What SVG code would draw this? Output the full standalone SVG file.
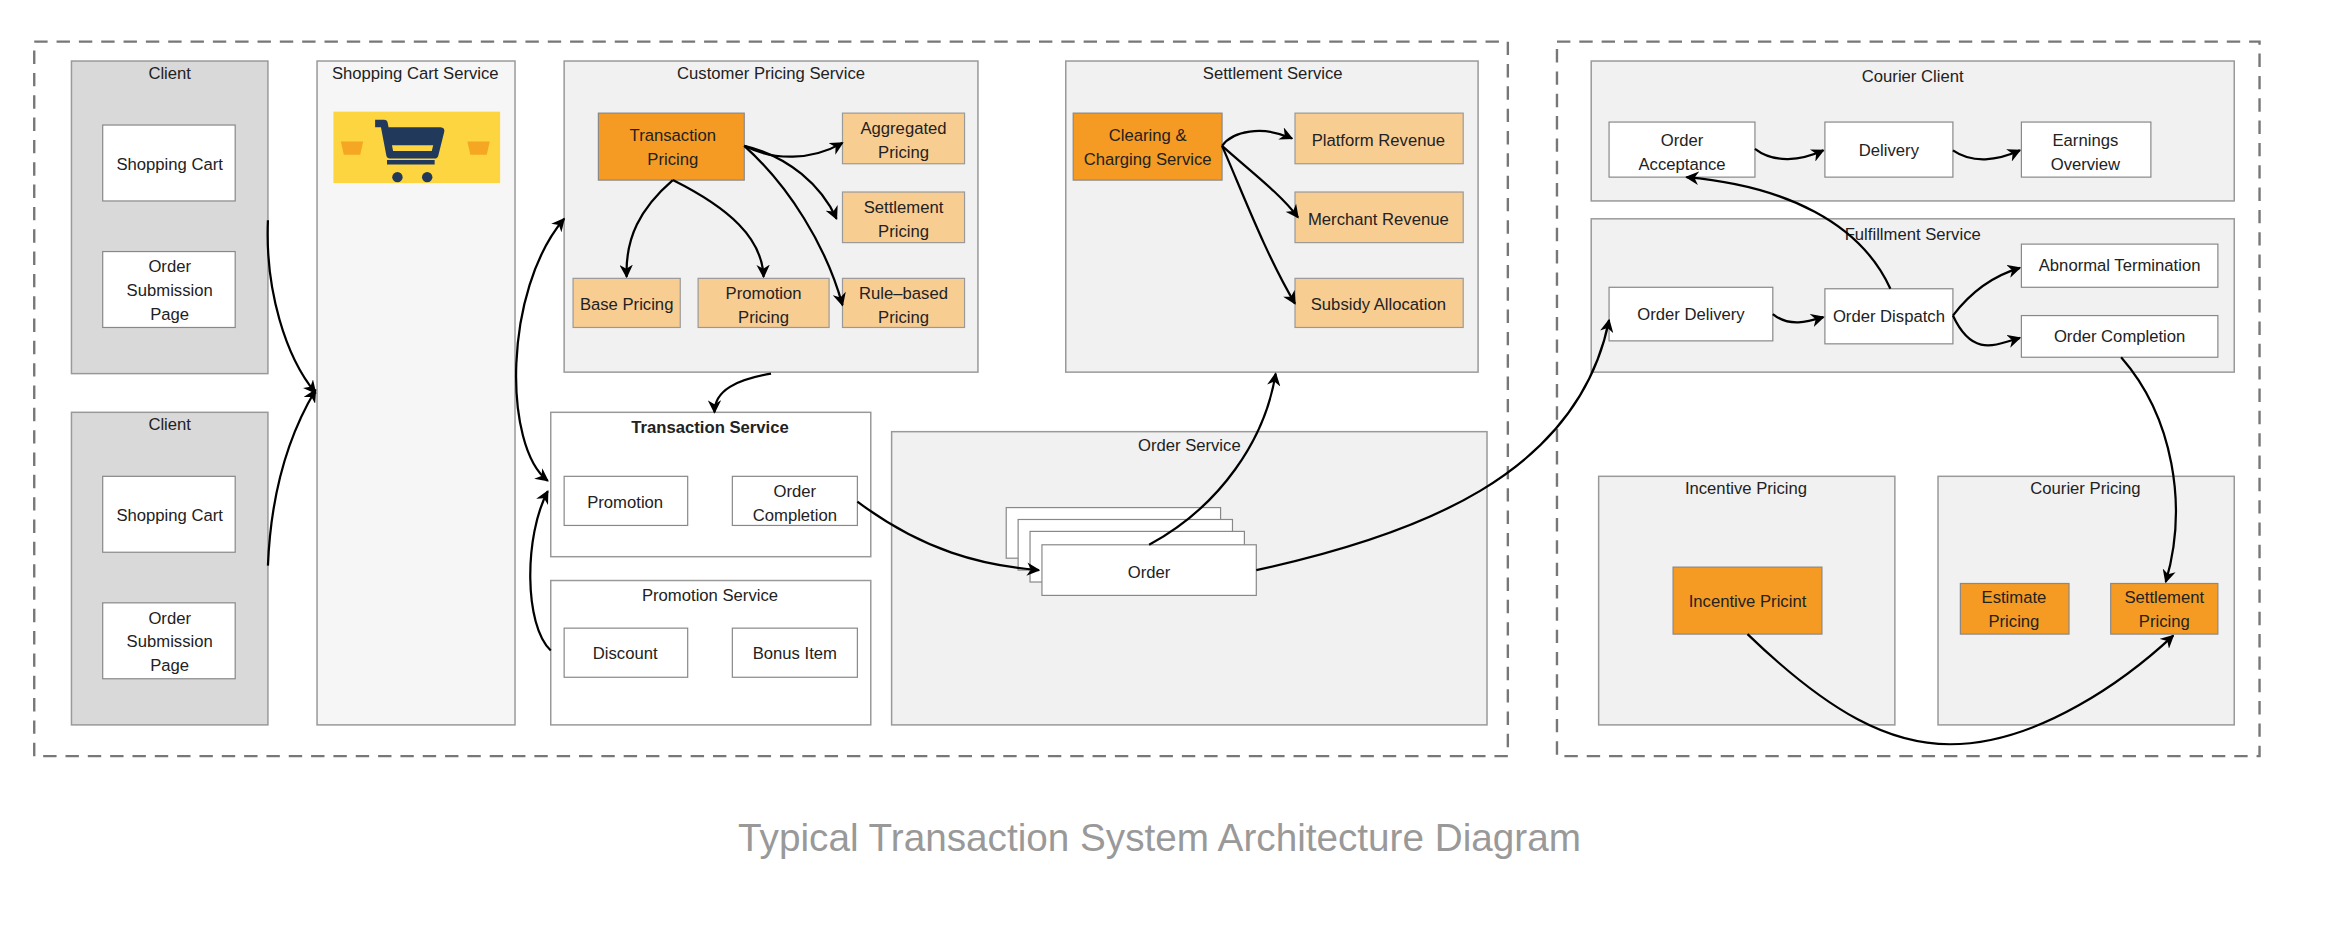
<svg xmlns="http://www.w3.org/2000/svg" width="2334" height="936" viewBox="0 0 2334 936">
<style>
text{font-family:"Liberation Sans",Arial,sans-serif;font-size:11.2px;fill:#222;text-anchor:middle}
.grp{fill:#f1f1f1;stroke:#999;stroke-width:1}
.cli{fill:#d9d9d9;stroke:#999;stroke-width:1}
.w{fill:#fff;stroke:#888;stroke-width:0.8}
.o{fill:#f59b23;stroke:#888;stroke-width:0.8}
.lo{fill:#f8cd92;stroke:#999;stroke-width:0.8}
.dash{fill:none;stroke:#777;stroke-width:1.6;stroke-dasharray:9,6}
.c{fill:none;stroke:#000;stroke-width:1.5;marker-end:url(#ah)}
</style>
<defs>
<marker id="ah" viewBox="0 0 10 10" refX="9" refY="5" markerWidth="6" markerHeight="6" orient="auto-start-reverse"><path d="M0,0 L10,5 L0,10 L3,5 Z" fill="#000"/></marker>
</defs>
<rect width="2334" height="936" fill="#fff"/>
<g transform="scale(1.4885)">
<rect class="dash" x="23" y="28" width="990" height="480"/>
<rect class="dash" x="1046" y="28" width="472" height="480"/>

<g id="client1"><rect class="cli" x="48" y="41" width="132" height="210"/><text x="114" y="53">Client</text>
<rect class="w" x="69" y="84" width="89" height="51"/><text x="114" y="114">Shopping Cart</text>
<rect class="w" x="69" y="169" width="89" height="51"/><text x="114" y="183">Order</text><text x="114" y="199">Submission</text><text x="114" y="215">Page</text></g>
<g id="client2"><rect class="cli" x="48" y="277" width="132" height="210"/><text x="114" y="289">Client</text>
<rect class="w" x="69" y="320" width="89" height="51"/><text x="114" y="350">Shopping Cart</text>
<rect class="w" x="69" y="405" width="89" height="51"/><text x="114" y="419">Order</text><text x="114" y="435">Submission</text><text x="114" y="451">Page</text></g>

<g id="cart-service"><rect x="213" y="41" width="133" height="446" fill="#f6f6f6" stroke="#999"/><text x="279" y="53">Shopping Cart Service</text>
<rect x="224" y="75" width="112" height="48" fill="#fdd540"/>
<path d="M252,83 L258,83 L262,104 L292,104 L296,88 L260,88" fill="none" stroke="#213a5c" stroke-width="5" stroke-linejoin="round"/>
<path d="M262,96 L294,96 L296,88 L260,88 Z M260,109 L292,109" fill="#213a5c" stroke="#213a5c" stroke-width="3"/>
<circle cx="267" cy="119" r="3.5" fill="#213a5c"/><circle cx="287" cy="119" r="3.5" fill="#213a5c"/>
<path d="M229,95 L244,95 L242,104 L231,104 Z" fill="#f5a623"/><path d="M314,95 L329,95 L327,104 L316,104 Z" fill="#f5a623"/></g>

<g id="customer-pricing"><rect class="grp" x="379" y="41" width="278" height="209"/><text x="518" y="53">Customer Pricing Service</text>
<rect class="o" x="402" y="76" width="98" height="45"/><text x="452" y="95">Transaction</text><text x="452" y="111">Pricing</text>
<rect class="lo" x="566" y="76" width="82" height="34"/><text x="607" y="90">Aggregated</text><text x="607" y="106">Pricing</text>
<rect class="lo" x="566" y="129" width="82" height="34"/><text x="607" y="143">Settlement</text><text x="607" y="159">Pricing</text>
<rect class="lo" x="566" y="187" width="82" height="33"/><text x="607" y="201">Rule–based</text><text x="607" y="217">Pricing</text>
<rect class="lo" x="385" y="187" width="72" height="33"/><text x="421" y="208">Base Pricing</text>
<rect class="lo" x="469" y="187" width="88" height="33"/><text x="513" y="201">Promotion</text><text x="513" y="217">Pricing</text></g>

<g id="settlement"><rect class="grp" x="716" y="41" width="277" height="209"/><text x="855" y="53">Settlement Service</text>
<rect class="o" x="721" y="76" width="100" height="45"/><text x="771" y="95">Clearing &amp;</text><text x="771" y="111">Charging Service</text>
<rect class="lo" x="870" y="76" width="113" height="34"/><text x="926" y="98">Platform Revenue</text>
<rect class="lo" x="870" y="129" width="113" height="34"/><text x="926" y="151">Merchant Revenue</text>
<rect class="lo" x="870" y="187" width="113" height="33"/><text x="926" y="208">Subsidy Allocation</text></g>

<g id="transaction-service"><rect x="370" y="277" width="215" height="97" fill="#fff" stroke="#999"/><text x="477" y="291" style="font-weight:bold">Transaction Service</text>
<rect class="w" x="379" y="320" width="83" height="33"/><text x="420" y="341">Promotion</text>
<rect class="w" x="492" y="320" width="84" height="33"/><text x="534" y="334">Order</text><text x="534" y="350">Completion</text></g>

<g id="promotion-service"><rect x="370" y="390" width="215" height="97" fill="#fff" stroke="#999"/><text x="477" y="404">Promotion Service</text>
<rect class="w" x="379" y="422" width="83" height="33"/><text x="420" y="443">Discount</text>
<rect class="w" x="492" y="422" width="84" height="33"/><text x="534" y="443">Bonus Item</text></g>

<g id="order-service"><rect class="grp" x="599" y="290" width="400" height="197"/><text x="799" y="303">Order Service</text>
<rect class="w" x="676" y="341" width="144" height="34"/><rect class="w" x="684" y="349" width="144" height="34"/><rect class="w" x="692" y="357" width="144" height="34"/>
<rect class="w" x="700" y="366" width="144" height="34"/><text x="772" y="388">Order</text></g>

<g id="courier-client"><rect class="grp" x="1069" y="41" width="432" height="94"/><text x="1285" y="55">Courier Client</text>
<rect class="w" x="1081" y="82" width="98" height="37"/><text x="1130" y="98">Order</text><text x="1130" y="114">Acceptance</text>
<rect class="w" x="1226" y="82" width="86" height="37"/><text x="1269" y="105">Delivery</text>
<rect class="w" x="1358" y="82" width="87" height="37"/><text x="1401" y="98">Earnings</text><text x="1401" y="114">Overview</text></g>

<g id="fulfillment"><rect class="grp" x="1069" y="147" width="432" height="103"/><text x="1285" y="161">Fulfillment Service</text>
<rect class="w" x="1081" y="193" width="110" height="36"/><text x="1136" y="215">Order Delivery</text>
<rect class="w" x="1226" y="194" width="86" height="37"/><text x="1269" y="216">Order Dispatch</text>
<rect class="w" x="1358" y="164" width="132" height="29"/><text x="1424" y="182">Abnormal Termination</text>
<rect class="w" x="1358" y="212" width="132" height="28"/><text x="1424" y="230">Order Completion</text></g>

<g id="incentive-pricing"><rect class="grp" x="1074" y="320" width="199" height="167"/><text x="1173" y="332">Incentive Pricing</text>
<rect class="o" x="1124" y="381" width="100" height="45"/><text x="1174" y="408">Incentive Pricint</text></g>

<g id="courier-pricing"><rect class="grp" x="1302" y="320" width="199" height="167"/><text x="1401" y="332">Courier Pricing</text>
<rect class="o" x="1317" y="392" width="73" height="34"/><text x="1353" y="405">Estimate</text><text x="1353" y="421">Pricing</text>
<rect class="o" x="1418" y="392" width="72" height="34"/><text x="1454" y="405">Settlement</text><text x="1454" y="421">Pricing</text></g>

<g id="connectors">
<path class="c" d="M180,148 C178,195 192,240 212,264"/>
<path class="c" d="M180,380 C182,330 194,292 212,262"/>
<path class="c" d="M518,251 C495,255 480,262 480,277"/>
<path class="c" d="M368,323 C338,300 338,195 379,147" style="marker-start:url(#ah)"/>
<path class="c" d="M370,437 C352,420 352,360 368,330"/>
<path class="c" d="M500,98 C520,108 545,108 566,96"/>
<path class="c" d="M500,98 C530,105 552,125 562,147"/>
<path class="c" d="M500,98 C530,125 555,165 566,205"/>
<path class="c" d="M452,121 C430,140 420,160 421,186"/>
<path class="c" d="M452,121 C490,140 512,160 513,186"/>
<path class="c" d="M821,98 C828,88 848,84 868,93"/>
<path class="c" d="M821,98 C840,115 860,130 872,146"/>
<path class="c" d="M821,98 C835,130 850,170 870,204"/>
<path class="c" d="M576,337 C620,370 660,380 698,383"/>
<path class="c" d="M772,366 C820,340 850,295 857,251"/>
<path class="c" d="M844,383 C950,360 1060,320 1081,215"/>
<path class="c" d="M1179,100 C1192,110 1210,108 1225,101"/>
<path class="c" d="M1312,101 C1325,110 1342,108 1357,101"/>
<path class="c" d="M1191,211 C1202,220 1215,216 1225,213"/>
<path class="c" d="M1312,212 C1325,195 1340,185 1357,180"/>
<path class="c" d="M1312,212 C1325,240 1340,232 1357,227"/>
<path class="c" d="M1270,194 C1250,150 1200,125 1133,119"/>
<path class="c" d="M1425,240 C1460,280 1470,340 1455,391"/>
<path class="c" d="M1174,426 C1230,480 1270,500 1310,500 C1370,500 1430,455 1460,427"/>
</g>
<text x="779" y="572" style="font-size:26px;fill:#999">Typical Transaction System Architecture Diagram</text>
</g>
</svg>
